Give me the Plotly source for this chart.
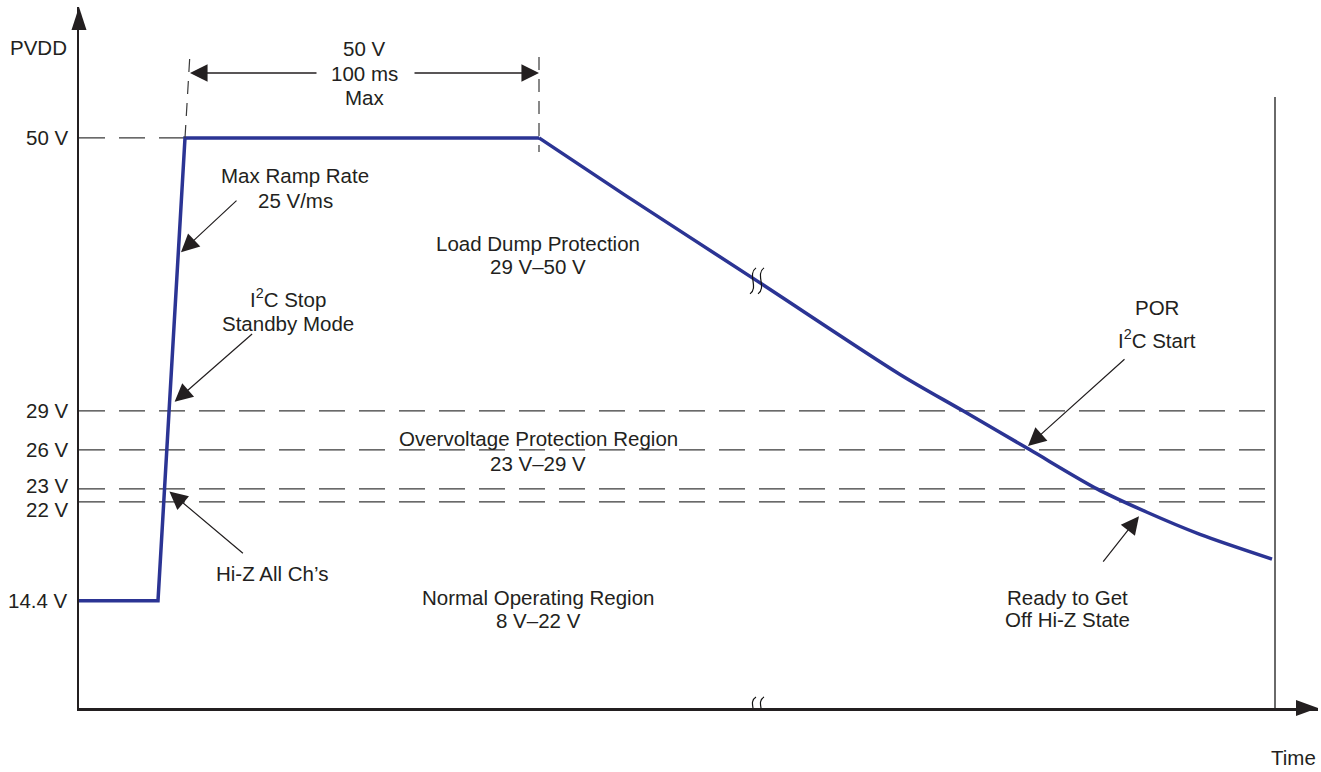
import plotly.graph_objects as go

# ---------------- data ----------------
# Voltage levels marked on the PVDD axis (V)
level_values = [50, 29, 26, 23, 22, 14.4]
level_labels = ["50 V", "29 V", "26 V", "23 V", "22 V", "14.4 V"]
level_label_shift = [0, 0, 0, 3, -8, 0]   # small nudges so close labels stay readable
dashed_levels = [29, 26, 23, 22]

# PVDD waveform, time in schematic (arbitrary) units
t_rise = [0, 79, 106, 460]
v_rise = [14.4, 14.4, 50, 50]
t_decay = [460, 546, 678, 821, 884, 951, 1018, 1068, 1121, 1193]
v_decay = [50, 45.6, 39.0, 31.8, 29.0, 26.0, 23.0, 21.2, 19.5, 17.6]

t_end = 1196          # time of the vertical end marker
t_break = 678         # axis break position
v_break = 39.0

# ---------------- style ----------------
W, H = 1321, 772
ML, MR, MT, MB = 79, 3, 7, 64
X_RANGE = [0, 1239]
Y_RANGE = [6.14, 60.07]
BLUE = "#2B3494"
INK = "#231f20"
DASH_C = "#3a3a3a"
FONT = "Liberation Sans, Arial, sans-serif"
FS = 20.5

plot_w = W - ML - MR
plot_h = H - MT - MB


def ref_xy(px, py):
    """Convert a layout position given in page pixels to axis units."""
    x = X_RANGE[0] + (px - ML) / plot_w * (X_RANGE[1] - X_RANGE[0])
    y = Y_RANGE[1] - (py - MT) / plot_h * (Y_RANGE[1] - Y_RANGE[0])
    return x, y


def ref_paper(px, py):
    return (px - ML) / plot_w, (H - MB - py) / plot_h


fig = go.Figure()
fig.add_trace(go.Scatter(x=t_rise, y=v_rise, mode="lines",
                         line=dict(color=BLUE, width=3.5), hoverinfo="skip"))
fig.add_trace(go.Scatter(x=t_decay, y=v_decay, mode="lines",
                         line=dict(color=BLUE, width=3.5, shape="spline", smoothing=0.8),
                         hoverinfo="skip"))

shapes = []
# horizontal dashed reference lines
shapes.append(dict(type="line", xref="x", yref="y", x0=0, x1=t_rise[2], y0=50, y1=50,
                   line=dict(color=DASH_C, width=1.3, dash="26px,14px"), layer="below"))
for v in dashed_levels:
    shapes.append(dict(type="line", xref="x", yref="y", x0=0, x1=t_end, y0=v, y1=v,
                       line=dict(color=DASH_C, width=1.3, dash="26px,14px"), layer="below"))
# vertical end marker
_, v_top_end = ref_xy(0, 97)
shapes.append(dict(type="line", xref="x", yref="y", x0=t_end, x1=t_end,
                   y0=Y_RANGE[0], y1=v_top_end, line=dict(color="#6a6a6a", width=2)))
# dashed extension lines for the 100 ms dimension
xa, ya = ref_xy(190, 53)
shapes.append(dict(type="line", xref="x", yref="y", x0=t_rise[2], y0=50, x1=xa, y1=ya,
                   line=dict(color=DASH_C, width=1.2, dash="13px,9px")))
_, yb0 = ref_xy(0, 57)
_, yb1 = ref_xy(0, 152)
shapes.append(dict(type="line", xref="x", yref="y", x0=t_rise[3], y0=yb0, x1=t_rise[3], y1=yb1,
                   line=dict(color=DASH_C, width=1.2, dash="13px,9px")))
# axis arrowheads (paper-referenced so they are not clipped)
shapes.append(dict(type="path", xref="paper", yref="paper", xsizemode="pixel", ysizemode="pixel",
                   xanchor=0, yanchor=1,
                   path="M -7.5,-23 L 7.5,-23 L 0,0 Z", fillcolor=INK, line=dict(width=0)))
shapes.append(dict(type="path", xref="paper", yref="paper", xsizemode="pixel", ysizemode="pixel",
                   xanchor=1, yanchor=0,
                   path="M -22,8 L -22,-8 L 0,0 Z", fillcolor=INK, line=dict(width=0)))
# break marks
for (bx, by, hh) in [(t_break, v_break, 13), (t_break, Y_RANGE[0], 11)]:
    for dx in (-4, 4):
        shapes.append(dict(type="path", xref="x", yref="y", xsizemode="pixel",
                           ysizemode="pixel", xanchor=bx, yanchor=by,
                           path=f"M {dx+3},{hh} C {dx-6},{hh/2} {dx+6},{-hh/2} {dx-3},{-hh}",
                           line=dict(color="#111111", width=1.2)))

annotations = []

# level labels on the PVDD axis
for v, lab, sh in zip(level_values, level_labels, level_label_shift):
    annotations.append(dict(x=0, y=v, xref="paper", yref="y", text=lab, showarrow=False,
                            xanchor="right", yanchor="middle", xshift=-9, yshift=sh,
                            font=dict(family=FONT, size=FS, color=INK)))


def text_at(px, py, txt, size=FS):
    x, y = ref_xy(px, py)
    annotations.append(dict(x=x, y=y, xref="x", yref="y", text=txt, showarrow=False,
                            xanchor="center", yanchor="middle",
                            font=dict(family=FONT, size=size, color=INK)))


def paper_text(px, py, txt, size=FS, xanchor="center"):
    x, y = ref_paper(px, py)
    annotations.append(dict(x=x, y=y, xref="paper", yref="paper", text=txt, showarrow=False,
                            xanchor=xanchor, yanchor="middle",
                            font=dict(family=FONT, size=size, color=INK)))


def arrow(tip_x, tip_y, ax, ay, size=3.0, width=1.2):
    annotations.append(dict(x=tip_x, y=tip_y, xref="x", yref="y", ax=ax, ay=ay,
                            text="", showarrow=True, arrowhead=2, arrowsize=size,
                            arrowwidth=width, arrowcolor=INK))


paper_text(38, 48, "PVDD")
paper_text(1318, 757, "Time", xanchor="right")
text_at(364, 48, "50 V")
text_at(364, 73, "100 ms")
text_at(364, 97, "Max")
text_at(295, 175, "Max Ramp Rate")
text_at(295, 200, "25 V/ms")
text_at(288, 298, "I<sup>2</sup>C Stop")
text_at(288, 323, "Standby Mode")
text_at(272, 573, "Hi-Z All Ch’s")
text_at(538, 243, "Load Dump Protection")
text_at(538, 266, "29 V–50 V")
text_at(538, 438, "Overvoltage Protection Region")
text_at(538, 463, "23 V–29 V")
text_at(538, 597, "Normal Operating Region")
text_at(538, 620, "8 V–22 V")
text_at(1157, 307, "POR")
text_at(1157, 339, "I<sup>2</sup>C Start")
text_at(1067, 597, "Ready to Get")
text_at(1067, 619, "Off Hi-Z State")

# dimension arrows (100 ms)
_, y_dim = ref_xy(0, 73)
x_left, _ = ref_xy(190, 0)
arrow(x_left, y_dim, 128, 0, size=2.7, width=1.3)
arrow(t_rise[3], y_dim, -126, 0, size=2.7, width=1.3)

# callout arrows
arrow(102, 41.2, 57, -53)      # max ramp rate
arrow(95.6, 29.7, 79, -69)     # I2C stop
arrow(90.4, 22.8, 75, 63)      # Hi-Z all channels
arrow(949, 26.3, 98, -88)      # POR
arrow(1060, 20.9, -37, 47)     # ready to get off Hi-Z

fig.update_layout(
    width=W, height=H,
    margin=dict(l=ML, r=MR, t=MT, b=MB, pad=0),
    paper_bgcolor="white", plot_bgcolor="white",
    showlegend=False,
    shapes=shapes, annotations=annotations,
    font=dict(family=FONT, size=FS, color=INK),
    xaxis=dict(range=X_RANGE, showgrid=False, zeroline=False, showticklabels=False,
               ticks="", showline=True, linecolor=INK, linewidth=2.5, fixedrange=True),
    yaxis=dict(range=Y_RANGE, showgrid=False, zeroline=False, showline=True,
               linecolor=INK, linewidth=2.5, showticklabels=False, ticks="",
               fixedrange=True),
)

fig.write_html(
    "out.html",
    config={"displayModeBar": False, "staticPlot": True},
    post_script=("document.body.style.margin='0';"
                 "document.body.style.overflow='hidden';"
                 "document.documentElement.style.overflow='hidden';"),
)
